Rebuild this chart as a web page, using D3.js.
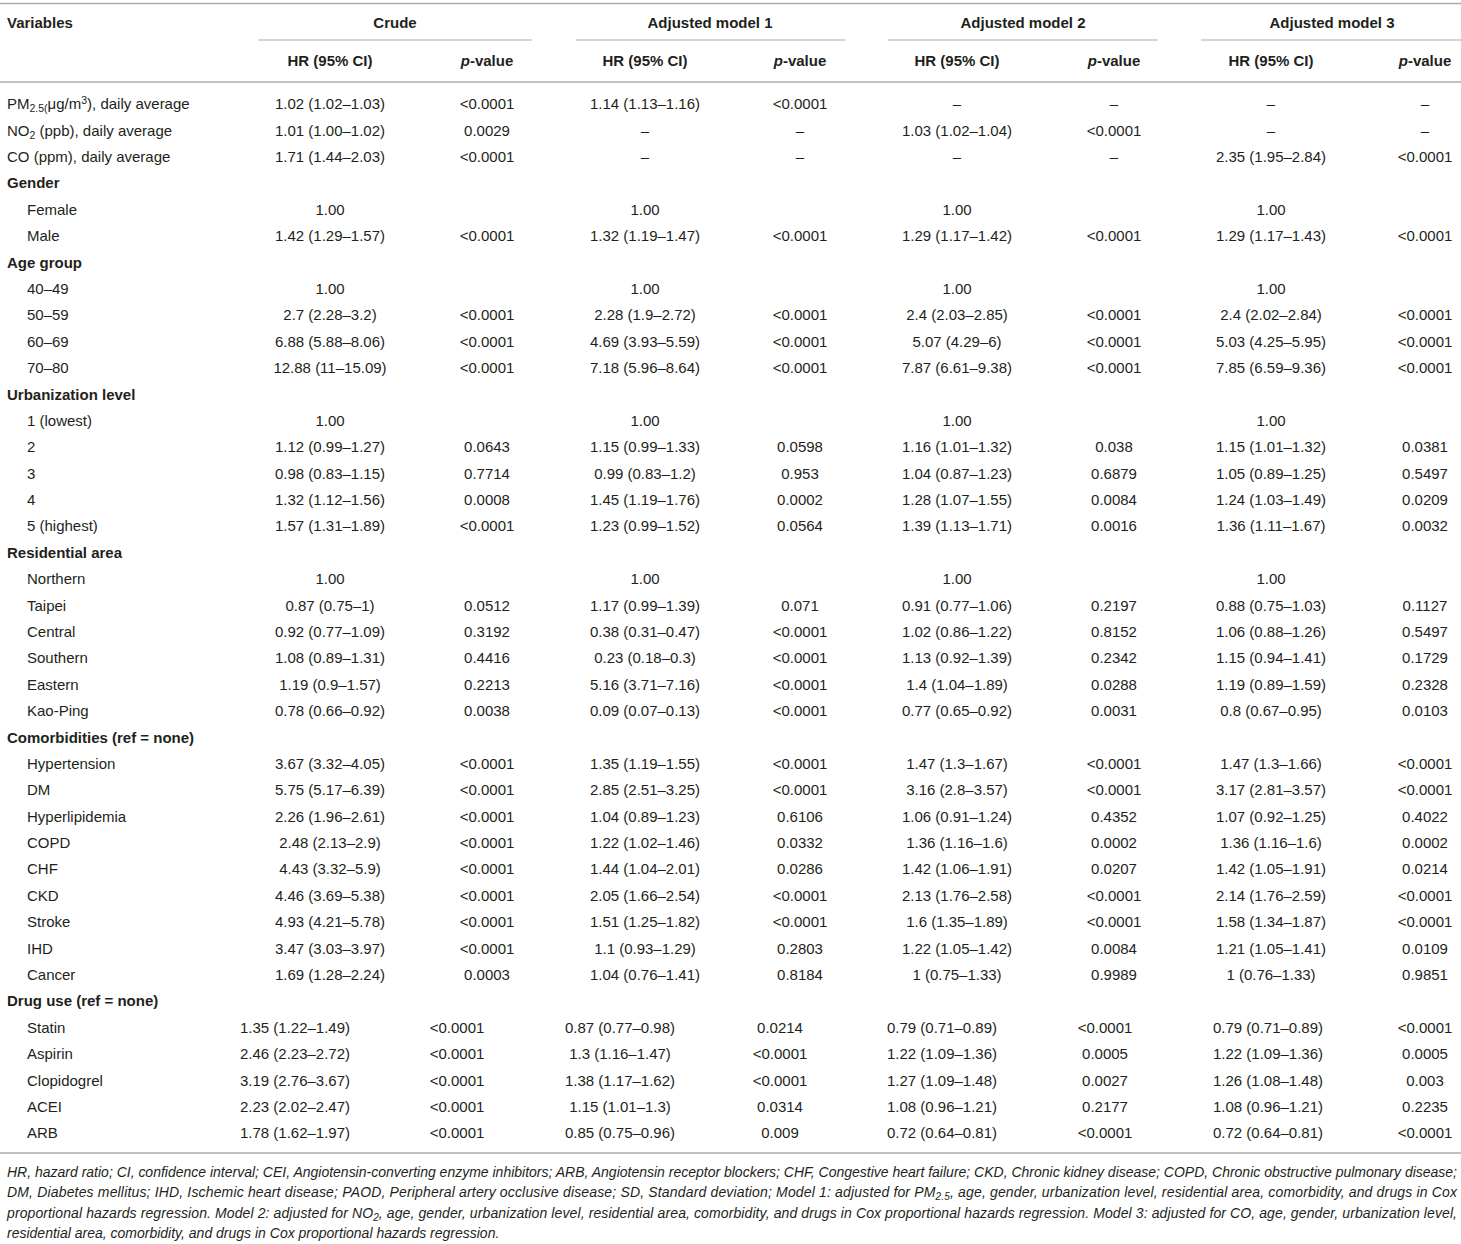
<!DOCTYPE html>
<html>
<head>
<meta charset="utf-8">
<script src="https://cdn.jsdelivr.net/npm/d3@7"></script>
<style>
  html, body { margin: 0; padding: 0; background: #fff; }
  svg { display: block; }
  text { font-family: "Liberation Sans", Arial, Helvetica, sans-serif; fill: #231f20; }
</style>
</head>
<body>
<svg id="chart" width="1461" height="1244"></svg>
<script>
// ---------------- DATA ----------------
const groups = ["Crude", "Adjusted model 1", "Adjusted model 2", "Adjusted model 3"];
const subHeaders = ["HR (95% CI)", "p-value"];

const rowLabels = [
  "PM2.5", "NO2", "CO (ppm), daily average",
  "Gender", "Female", "Male",
  "Age group", "40–49", "50–59", "60–69", "70–80",
  "Urbanization level", "1 (lowest)", "2", "3", "4", "5 (highest)",
  "Residential area", "Northern", "Taipei", "Central", "Southern", "Eastern", "Kao-Ping",
  "Comorbidities (ref = none)", "Hypertension", "DM", "Hyperlipidemia", "COPD", "CHF", "CKD", "Stroke", "IHD", "Cancer",
  "Drug use (ref = none)", "Statin", "Aspirin", "Clopidogrel", "ACEI", "ARB"
];
// kinds: "top" = unindented variable, "head" = bold section, "item" = indented, "drug" = indented drug row
const rowKinds = [
  "top", "top", "top",
  "head", "item", "item",
  "head", "item", "item", "item", "item",
  "head", "item", "item", "item", "item", "item",
  "head", "item", "item", "item", "item", "item", "item",
  "head", "item", "item", "item", "item", "item", "item", "item", "item", "item",
  "head", "drug", "drug", "drug", "drug", "drug"
];

const crudeHR = [
  "1.02 (1.02–1.03)", "1.01 (1.00–1.02)", "1.71 (1.44–2.03)",
  "", "1.00", "1.42 (1.29–1.57)",
  "", "1.00", "2.7 (2.28–3.2)", "6.88 (5.88–8.06)", "12.88 (11–15.09)",
  "", "1.00", "1.12 (0.99–1.27)", "0.98 (0.83–1.15)", "1.32 (1.12–1.56)", "1.57 (1.31–1.89)",
  "", "1.00", "0.87 (0.75–1)", "0.92 (0.77–1.09)", "1.08 (0.89–1.31)", "1.19 (0.9–1.57)", "0.78 (0.66–0.92)",
  "", "3.67 (3.32–4.05)", "5.75 (5.17–6.39)", "2.26 (1.96–2.61)", "2.48 (2.13–2.9)", "4.43 (3.32–5.9)", "4.46 (3.69–5.38)", "4.93 (4.21–5.78)", "3.47 (3.03–3.97)", "1.69 (1.28–2.24)",
  "", "1.35 (1.22–1.49)", "2.46 (2.23–2.72)", "3.19 (2.76–3.67)", "2.23 (2.02–2.47)", "1.78 (1.62–1.97)"
];
const crudeP = [
  "<0.0001", "0.0029", "<0.0001",
  "", "", "<0.0001",
  "", "", "<0.0001", "<0.0001", "<0.0001",
  "", "", "0.0643", "0.7714", "0.0008", "<0.0001",
  "", "", "0.0512", "0.3192", "0.4416", "0.2213", "0.0038",
  "", "<0.0001", "<0.0001", "<0.0001", "<0.0001", "<0.0001", "<0.0001", "<0.0001", "<0.0001", "0.0003",
  "", "<0.0001", "<0.0001", "<0.0001", "<0.0001", "<0.0001"
];
const model1HR = [
  "1.14 (1.13–1.16)", "–", "–",
  "", "1.00", "1.32 (1.19–1.47)",
  "", "1.00", "2.28 (1.9–2.72)", "4.69 (3.93–5.59)", "7.18 (5.96–8.64)",
  "", "1.00", "1.15 (0.99–1.33)", "0.99 (0.83–1.2)", "1.45 (1.19–1.76)", "1.23 (0.99–1.52)",
  "", "1.00", "1.17 (0.99–1.39)", "0.38 (0.31–0.47)", "0.23 (0.18–0.3)", "5.16 (3.71–7.16)", "0.09 (0.07–0.13)",
  "", "1.35 (1.19–1.55)", "2.85 (2.51–3.25)", "1.04 (0.89–1.23)", "1.22 (1.02–1.46)", "1.44 (1.04–2.01)", "2.05 (1.66–2.54)", "1.51 (1.25–1.82)", "1.1 (0.93–1.29)", "1.04 (0.76–1.41)",
  "", "0.87 (0.77–0.98)", "1.3 (1.16–1.47)", "1.38 (1.17–1.62)", "1.15 (1.01–1.3)", "0.85 (0.75–0.96)"
];
const model1P = [
  "<0.0001", "–", "–",
  "", "", "<0.0001",
  "", "", "<0.0001", "<0.0001", "<0.0001",
  "", "", "0.0598", "0.953", "0.0002", "0.0564",
  "", "", "0.071", "<0.0001", "<0.0001", "<0.0001", "<0.0001",
  "", "<0.0001", "<0.0001", "0.6106", "0.0332", "0.0286", "<0.0001", "<0.0001", "0.2803", "0.8184",
  "", "0.0214", "<0.0001", "<0.0001", "0.0314", "0.009"
];
const model2HR = [
  "–", "1.03 (1.02–1.04)", "–",
  "", "1.00", "1.29 (1.17–1.42)",
  "", "1.00", "2.4 (2.03–2.85)", "5.07 (4.29–6)", "7.87 (6.61–9.38)",
  "", "1.00", "1.16 (1.01–1.32)", "1.04 (0.87–1.23)", "1.28 (1.07–1.55)", "1.39 (1.13–1.71)",
  "", "1.00", "0.91 (0.77–1.06)", "1.02 (0.86–1.22)", "1.13 (0.92–1.39)", "1.4 (1.04–1.89)", "0.77 (0.65–0.92)",
  "", "1.47 (1.3–1.67)", "3.16 (2.8–3.57)", "1.06 (0.91–1.24)", "1.36 (1.16–1.6)", "1.42 (1.06–1.91)", "2.13 (1.76–2.58)", "1.6 (1.35–1.89)", "1.22 (1.05–1.42)", "1 (0.75–1.33)",
  "", "0.79 (0.71–0.89)", "1.22 (1.09–1.36)", "1.27 (1.09–1.48)", "1.08 (0.96–1.21)", "0.72 (0.64–0.81)"
];
const model2P = [
  "–", "<0.0001", "–",
  "", "", "<0.0001",
  "", "", "<0.0001", "<0.0001", "<0.0001",
  "", "", "0.038", "0.6879", "0.0084", "0.0016",
  "", "", "0.2197", "0.8152", "0.2342", "0.0288", "0.0031",
  "", "<0.0001", "<0.0001", "0.4352", "0.0002", "0.0207", "<0.0001", "<0.0001", "0.0084", "0.9989",
  "", "<0.0001", "0.0005", "0.0027", "0.2177", "<0.0001"
];
const model3HR = [
  "–", "–", "2.35 (1.95–2.84)",
  "", "1.00", "1.29 (1.17–1.43)",
  "", "1.00", "2.4 (2.02–2.84)", "5.03 (4.25–5.95)", "7.85 (6.59–9.36)",
  "", "1.00", "1.15 (1.01–1.32)", "1.05 (0.89–1.25)", "1.24 (1.03–1.49)", "1.36 (1.11–1.67)",
  "", "1.00", "0.88 (0.75–1.03)", "1.06 (0.88–1.26)", "1.15 (0.94–1.41)", "1.19 (0.89–1.59)", "0.8 (0.67–0.95)",
  "", "1.47 (1.3–1.66)", "3.17 (2.81–3.57)", "1.07 (0.92–1.25)", "1.36 (1.16–1.6)", "1.42 (1.05–1.91)", "2.14 (1.76–2.59)", "1.58 (1.34–1.87)", "1.21 (1.05–1.41)", "1 (0.76–1.33)",
  "", "0.79 (0.71–0.89)", "1.22 (1.09–1.36)", "1.26 (1.08–1.48)", "1.08 (0.96–1.21)", "0.72 (0.64–0.81)"
];
const model3P = [
  "–", "–", "<0.0001",
  "", "", "<0.0001",
  "", "", "<0.0001", "<0.0001", "<0.0001",
  "", "", "0.0381", "0.5497", "0.0209", "0.0032",
  "", "", "0.1127", "0.5497", "0.1729", "0.2328", "0.0103",
  "", "<0.0001", "<0.0001", "0.4022", "0.0002", "0.0214", "<0.0001", "<0.0001", "0.0109", "0.9851",
  "", "<0.0001", "0.0005", "0.003", "0.2235", "<0.0001"
];

// footnote segments: [text, mode] mode: n normal, s subscript
const footnoteLines = [
  [["HR, hazard ratio; CI, confidence interval; CEI, Angiotensin-converting enzyme inhibitors; ARB, Angiotensin receptor blockers; CHF, Congestive heart failure; CKD, Chronic kidney disease; COPD, Chronic obstructive pulmonary disease;", "n"]],
  [["DM, Diabetes mellitus; IHD, Ischemic heart disease; PAOD, Peripheral artery occlusive disease; SD, Standard deviation; Model 1: adjusted for PM", "n"], ["2.5", "s"], [", age, gender, urbanization level, residential area, comorbidity, and drugs in Cox", "n"]],
  [["proportional hazards regression. Model 2: adjusted for NO", "n"], ["2", "s"], [", age, gender, urbanization level, residential area, comorbidity, and drugs in Cox proportional hazards regression. Model 3: adjusted for CO, age, gender, urbanization level,", "n"]],
  [["residential area, comorbidity, and drugs in Cox proportional hazards regression.", "n"]]
];

// ---------------- LAYOUT ----------------
const W = 1461;
const svg = d3.select("#chart");
const lineColor = "#ababab";
const columns = [crudeHR, crudeP, model1HR, model1P, model2HR, model2P, model3HR, model3P];

// column centres (regular rows and drug-use rows are laid out differently in the source)
const xMain = d3.scaleOrdinal().domain(d3.range(8)).range([330, 487, 645, 800, 957, 1114, 1271, 1425]);
const xDrug = d3.scaleOrdinal().domain(d3.range(8)).range([295, 457, 620, 780, 942, 1105, 1268, 1425]);
const y = d3.scaleLinear().domain([0, rowLabels.length - 1]).range([104, 1133]);

const groupSpan = d3.scaleOrdinal().domain(groups).range([[258, 532], [576, 845], [888, 1158], [1201, 1461]]);
const groupCenter = d3.scaleOrdinal().domain(groups).range([395, 710, 1023, 1332]);

// rules
svg.append("line").attr("x1", 0).attr("x2", W).attr("y1", 3.5).attr("y2", 3.5)
  .attr("stroke", lineColor).attr("stroke-width", 1.6);
svg.append("line").attr("x1", 0).attr("x2", W).attr("y1", 82).attr("y2", 82)
  .attr("stroke", lineColor).attr("stroke-width", 1.6);
svg.append("line").attr("x1", 0).attr("x2", W).attr("y1", 1153).attr("y2", 1153)
  .attr("stroke", lineColor).attr("stroke-width", 1.6);

svg.selectAll("line.grp").data(groups).enter().append("line")
  .attr("class", "grp")
  .attr("x1", d => groupSpan(d)[0]).attr("x2", d => groupSpan(d)[1])
  .attr("y1", 40).attr("y2", 40)
  .attr("stroke", lineColor).attr("stroke-width", 1.2);

// header
svg.append("text").attr("x", 7).attr("y", 27.5)
  .attr("font-size", 15).attr("font-weight", "bold").text("Variables");

svg.selectAll("text.grp").data(groups).enter().append("text")
  .attr("class", "grp")
  .attr("x", d => groupCenter(d)).attr("y", 27.5)
  .attr("text-anchor", "middle").attr("font-size", 15).attr("font-weight", "bold")
  .text(d => d);

const subs = d3.range(8);
subs.forEach(i => {
  const t = svg.append("text")
    .attr("x", xMain(i)).attr("y", 65.5)
    .attr("text-anchor", "middle").attr("font-size", 15).attr("font-weight", "bold");
  if (i % 2 === 0) {
    t.text(subHeaders[0]);
  } else {
    t.append("tspan").attr("font-style", "italic").text("p");
    t.append("tspan").text("-value");
  }
});

// row labels
const labelG = svg.append("g");
rowLabels.forEach((lab, i) => {
  const kind = rowKinds[i];
  const t = labelG.append("text")
    .attr("x", (kind === "item" || kind === "drug") ? 27 : 7)
    .attr("y", y(i) + 5.3)
    .attr("font-size", 15)
    .attr("font-weight", kind === "head" ? "bold" : "normal");
  if (lab === "PM2.5") {
    t.append("tspan").text("PM");
    t.append("tspan").attr("font-size", 10.5).attr("dy", 3).text("2.5(");
    t.append("tspan").attr("dy", -3).text("μg/m");
    t.append("tspan").attr("font-size", 10.5).attr("dy", -5).text("3");
    t.append("tspan").attr("dy", 5).text("), daily average");
  } else if (lab === "NO2") {
    t.append("tspan").text("NO");
    t.append("tspan").attr("font-size", 10.5).attr("dy", 3).text("2");
    t.append("tspan").attr("dy", -3).text(" (ppb), daily average");
  } else {
    t.text(lab);
  }
});

// cells
const cells = [];
columns.forEach((col, c) => {
  col.forEach((v, r) => { if (v !== "") cells.push({ c, r, v }); });
});
svg.append("g").selectAll("text").data(cells).enter().append("text")
  .attr("x", d => rowKinds[d.r] === "drug" ? xDrug(d.c) : xMain(d.c))
  .attr("y", d => y(d.r) + 5.3)
  .attr("text-anchor", "middle")
  .attr("font-size", 15)
  .text(d => d.v);

// footnote
const fy = d3.scaleLinear().domain([0, 3]).range([1177, 1238]);
footnoteLines.forEach((segs, i) => {
  const t = svg.append("text")
    .attr("x", 7).attr("y", fy(i))
    .attr("font-size", 14).attr("font-style", "italic");
  if (i < 3) t.attr("textLength", 1450).attr("lengthAdjust", "spacing");
  segs.forEach(([s, m]) => {
    if (m === "s") {
      t.append("tspan").attr("font-size", 10).attr("dy", 3).text(s);
    } else {
      const sp = t.append("tspan").text(s);
      if (segs.length > 1 && segs.indexOf(segs.find(x => x[0] === s)) > 0) sp.attr("dy", -3);
    }
  });
});
</script>
</body>
</html>
